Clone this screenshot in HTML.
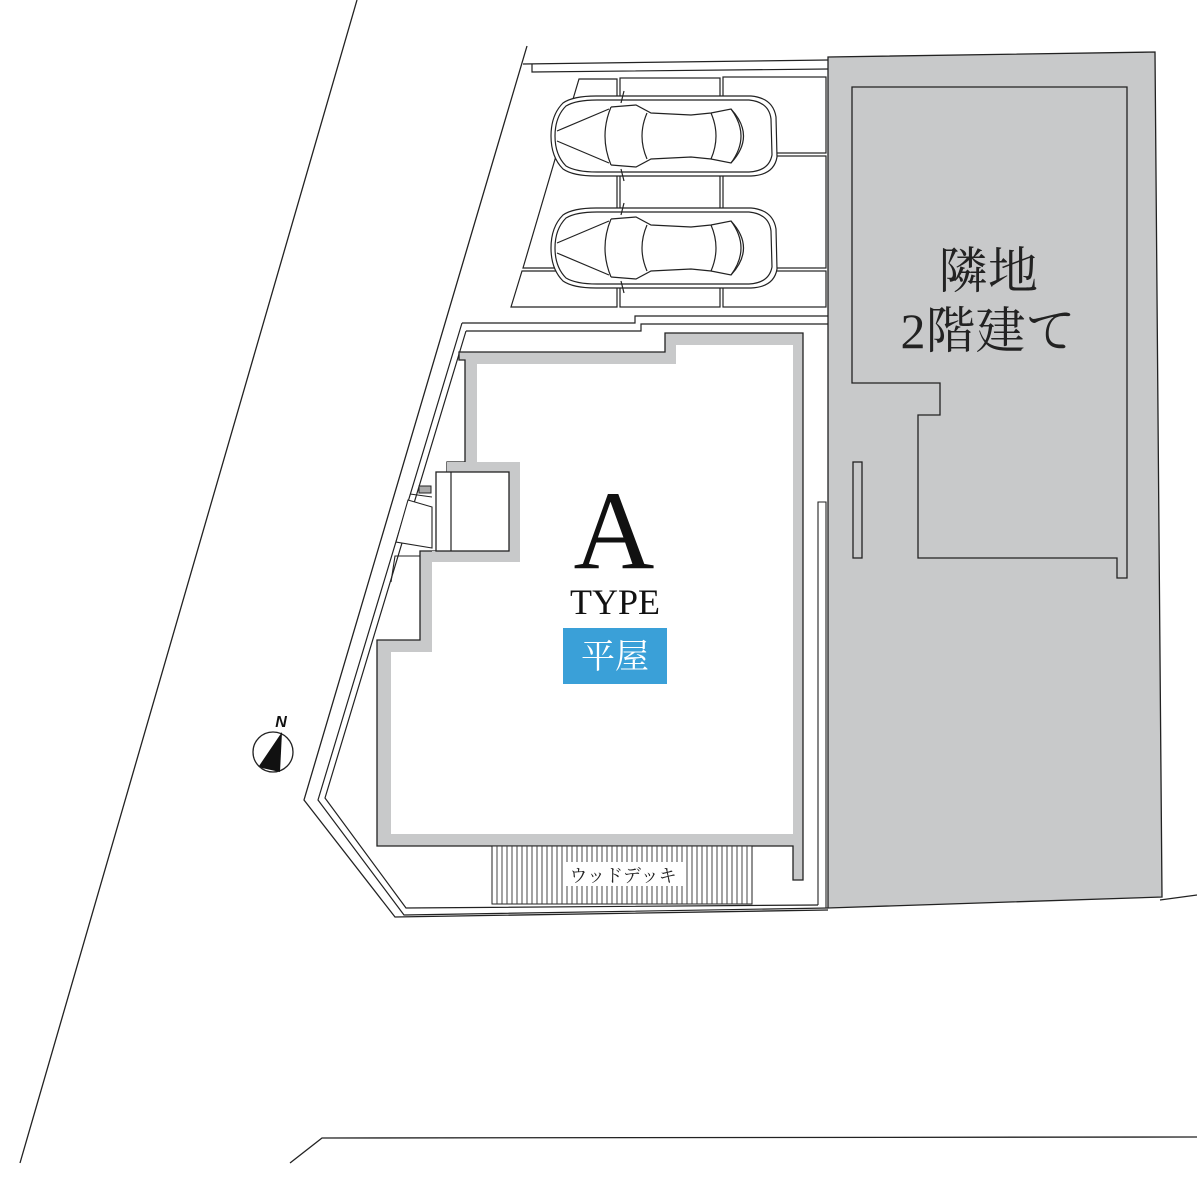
<!DOCTYPE html>
<html><head><meta charset="utf-8"><style>
html,body{margin:0;padding:0;background:#fff}
svg{display:block}
</style></head><body>
<svg width="1197" height="1183" viewBox="0 0 1197 1183" xmlns="http://www.w3.org/2000/svg">
<defs>
<g id="car" fill="none" stroke="#222" stroke-width="1.2">
  <path d="M12,8 Q22,1 45,1 L200,1 Q222,3 225,22 L226,62 Q223,80 200,81 L45,81 Q22,81 12,74 Q0,62 0,41 Q0,20 12,8Z" fill="#fff"/>
  <path d="M15,11 Q25,5 46,5 L198,5 Q218,7 220,24 L221,60 Q218,76 198,77 L46,77 Q25,77 15,71 Q4,60 4,41 Q4,22 15,11Z"/>
  <path d="M6,36 L58,14 M6,46 L58,68"/>
  <path d="M60,12 Q48,41 60,70"/>
  <path d="M60,12 L85,10 L100,18 L140,20 L160,18 L180,14 Q200,41 180,68 L160,64 L140,62 L100,64 L85,72 L60,70"/>
  <path d="M96,18 Q86,41 96,64"/>
  <path d="M160,18 Q170,41 160,64"/>
  <path d="M180,14 Q205,41 180,68"/>
  <path d="M70,8 L73,-4 M70,74 L73,86"/>
</g>
</defs>

<!-- road lines -->
<line x1="357" y1="0" x2="20" y2="1163" stroke="#222" stroke-width="1.3"/>
<polyline points="290,1163 322,1138 1197,1137" fill="none" stroke="#222" stroke-width="1.3"/>
<line x1="1160" y1="900" x2="1197" y2="895" stroke="#222" stroke-width="1.3"/>

<!-- neighbor -->
<polygon points="828,57 1155,52 1162,897 828,908" fill="#c8c9ca" stroke="#222" stroke-width="1.3"/>
<polygon points="852,87 1127,87 1127,578 1117,578 1117,558 918,558 918,415 940,415 940,383 852,383" fill="#c8c9ca" stroke="#222" stroke-width="1.3"/>
<rect x="853" y="462" width="9" height="96" fill="#c8c9ca" stroke="#222" stroke-width="1.3"/>
<text x="988" y="288" font-family="Liberation Serif, 'Noto Serif CJK SC', serif" font-size="50" text-anchor="middle" fill="#222">隣地</text>
<text x="988" y="348" font-family="Liberation Serif, 'Noto Serif CJK SC', serif" font-size="50" text-anchor="middle" fill="#222">2階建て</text>

<!-- lot outer lines -->
<polyline points="527,46 304,800 395,917 828,910" fill="none" stroke="#222" stroke-width="1.3"/>
<polyline points="523,64 828,60" fill="none" stroke="#222" stroke-width="1.3"/>
<polyline points="532,64 532,72 828,69" fill="none" stroke="#222" stroke-width="1.2"/>
<polyline points="462,323 318,800 404,915 828,908" fill="none" stroke="#222" stroke-width="1.2"/>
<polyline points="466,331 325,798 406,908 818,905" fill="none" stroke="#222" stroke-width="1.2"/>
<polyline points="462,323 635,323 635,316 828,316" fill="none" stroke="#222" stroke-width="1.2"/>
<polyline points="466,331 641,331 641,324 828,324" fill="none" stroke="#222" stroke-width="1.2"/>
<polyline points="818,905 818,502 826,502 826,908" fill="none" stroke="#222" stroke-width="1.1"/>

<!-- parking grid -->
<g fill="#fff" stroke="#222" stroke-width="1.2">
<polygon points="579,79 617,79 617,153 557,153"/>
<polygon points="556,156 617,156 617,268 523,268"/>
<polygon points="522,271 617,271 617,307 511,307"/>
<rect x="620" y="78" width="100" height="75"/>
<rect x="620" y="156" width="100" height="112"/>
<rect x="620" y="271" width="100" height="36"/>
<rect x="723" y="77" width="103" height="76"/>
<rect x="723" y="156" width="103" height="112"/>
<rect x="723" y="271" width="103" height="36"/>
</g>
<use href="#car" x="551" y="95"/>
<use href="#car" x="551" y="207"/>

<!-- building -->
<polygon points="459,352 665,352 665,333 803,333 803,880 793,880 793,846 377,846 377,640 420,640 420,551 447,551 447,462 465,462 465,360 459,360" fill="#c8c9ca" stroke="#222" stroke-width="1.3"/>
<polygon points="477,364 676,364 676,345 793,345 793,834 391,834 391,652 432,652 432,562 520,562 520,462 477,462" fill="#fff"/>
<polygon points="447,462 520,462 520,562 432,562 432,551 447,551" fill="#c8c9ca"/>
<rect x="436" y="472" width="73" height="79" fill="#fff" stroke="#222" stroke-width="1.3"/>
<line x1="451" y1="472" x2="451" y2="551" stroke="#222" stroke-width="1.2"/>
<!-- small left bits -->
<polygon points="396,542 408,500 432,507 432,548" fill="#fff" stroke="#222" stroke-width="1.1"/>
<line x1="410" y1="494" x2="432" y2="497" stroke="#222" stroke-width="1.1"/>
<rect x="419" y="486" width="12" height="7" fill="#aaa" stroke="#222" stroke-width="1"/>
<polyline points="391,582 395,556 420,556" fill="none" stroke="#222" stroke-width="1.1"/>

<!-- deck -->
<rect x="492" y="846" width="260" height="58" fill="#fff" stroke="#222" stroke-width="1"/>
<g stroke="#333" stroke-width="0.9">
<path d="M497,846V904M502,846V904M507,846V904M512,846V904M517,846V904M522,846V904M527,846V904M532,846V904M537,846V904M542,846V904M547,846V904M552,846V904M557,846V904M562,846V904M567,846V904M572,846V904M577,846V904M582,846V904M587,846V904M592,846V904M597,846V904M602,846V904M607,846V904M612,846V904M617,846V904M622,846V904M627,846V904M632,846V904M637,846V904M642,846V904M647,846V904M652,846V904M657,846V904M662,846V904M667,846V904M672,846V904M677,846V904M682,846V904M687,846V904M692,846V904M697,846V904M702,846V904M707,846V904M712,846V904M717,846V904M722,846V904M727,846V904M732,846V904M737,846V904M742,846V904M747,846V904"/>
</g>
<rect x="563" y="862" width="120" height="24" fill="#fff"/>
<text x="623" y="882" font-family="Liberation Serif, 'Noto Serif CJK JP', serif" font-size="18" text-anchor="middle" fill="#222">ウッドデッキ</text>

<!-- labels -->
<text x="614" y="568" font-family="Liberation Serif, serif" font-size="112" text-anchor="middle" fill="#111">A</text>
<text x="615" y="614" font-family="Liberation Serif, serif" font-size="36" text-anchor="middle" fill="#111">TYPE</text>
<rect x="563" y="628" width="104" height="56" fill="#3aa0d8"/>
<text x="615" y="668" font-family="Liberation Serif, 'Noto Serif CJK SC', serif" font-size="34" text-anchor="middle" fill="#fff">平屋</text>

<!-- compass -->
<circle cx="273" cy="752" r="20" fill="#fff" stroke="#222" stroke-width="1.3"/>
<polygon points="282,732 280,772 262,768 259,766" fill="#111"/>
<text x="281" y="727" font-family="Liberation Sans, sans-serif" font-size="16" font-weight="bold" font-style="italic" text-anchor="middle" fill="#111">N</text>
</svg>
</body></html>
